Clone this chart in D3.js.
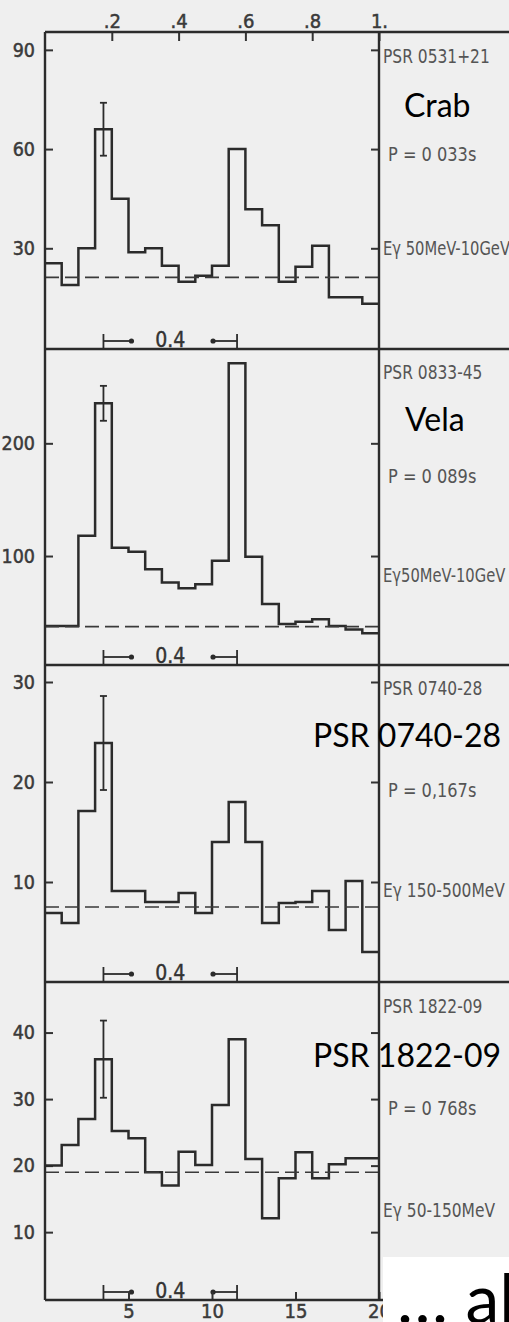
<!DOCTYPE html>
<html>
<head>
<meta charset="utf-8">
<script src="https://cdn.jsdelivr.net/npm/d3@7"></script>
<style>
  body { margin: 0; background: #efefef; }
  svg { display: block; }
  .tick text { font-family: "DejaVu Sans Condensed", "DejaVu Sans", sans-serif; fill: #3a3a3a; stroke: #3a3a3a; stroke-width: 0.5px; }
  .tick line { stroke: #333; stroke-width: 2; }
  .domain { display: none; }
</style>
</head>
<body>
<div id="plot"></div>
<script>
// pulsar light curves, 20 phase bins each
const pulsars = ["PSR 0531+21", "PSR 0833-45", "PSR 0740-28", "PSR 1822-09"];
const nicknames = ["Crab", "Vela", "PSR 0740-28", "PSR 1822-09"];
const periods = ["P = 0 033s", "P = 0 089s", "P = 0,167s", "P = 0 768s"];
const energies = ["Eγ 50MeV-10GeV", "Eγ50MeV-10GeV", "Eγ 150-500MeV", "Eγ 50-150MeV"];

const crabCounts = [25.5, 18.9, 30, 66, 45, 28.8, 30, 24.7, 19.9, 21.7, 24.7, 60, 41.8, 37, 19.9, 24.4, 30.8, 15.2, 15.2, 13.2];
const velaCounts = [37.9, 37.9, 118, 235.5, 107.4, 103.8, 88.2, 76.6, 71.3, 74.9, 95.9, 271, 99.4, 57.4, 39.6, 41.7, 43.8, 37.9, 34.9, 31.4];
const psr0740Counts = [6.9, 5.9, 17.1, 23.9, 9.1, 9.1, 8.0, 8.0, 8.9, 6.9, 14.0, 18.0, 14.0, 5.9, 7.9, 8.0, 9.1, 5.2, 10.1, 3.0];
const psr1822Counts = [20, 23.1, 27, 36, 25.2, 24.1, 19, 17, 22.1, 20.1, 29.1, 39, 21, 12.1, 18.1, 22, 18.1, 20.2, 21.1, 21.1];
const counts = [crabCounts, velaCounts, psr0740Counts, psr1822Counts];

const backgrounds = [21.2, 37.3, 7.5, 19];      // dashed level
const errorBars = [8, 15.5, 4.7, 5.8];           // on bin 4
const yTicks = [[30, 60, 90], [100, 200], [10, 20, 30], [10, 20, 30, 40]];
const phaseTicks = [0.2, 0.4, 0.6, 0.8, 1];
const phaseLabels = [".2", ".4", ".6", ".8", "1."];
const binTicks = [5, 10, 15, 20];
const separation = "0.4";

var dimension = {
    width: 509,
    height: 1322,
    left: 45,
    right: 379,
    panelTop: [32, 349, 665, 982],
    panelBottom: [349, 665, 982, 1300],
    yDomain: [[-0.45, 95.4], [3.3, 283.7], [0, 31.7], [-0.2, 47.6]]
}

const ink = "#2b2b2b";
const svg = d3.select("#plot").append("svg")
    .attr("width", dimension.width)
    .attr("height", dimension.height);

svg.append("rect").attr("width", dimension.width).attr("height", dimension.height).attr("fill", "#efefef");

const xScaler = d3.scaleLinear().domain([0, 20]).range([dimension.left, dimension.right]);
const phaseScaler = d3.scaleLinear().domain([0, 1]).range([dimension.left, dimension.right]);

for (let p = 0; p < 4; p++) {
    const top = dimension.panelTop[p], bottom = dimension.panelBottom[p];
    const yScaler = d3.scaleLinear().domain(dimension.yDomain[p]).range([bottom, top]);
    const g = svg.append("g");

    // axes (ticks pointing inward)
    g.append("g")
        .attr("transform", `translate(${dimension.left},0)`)
        .call(d3.axisLeft(yScaler).tickValues(yTicks[p]).tickSize(-8).tickPadding(10))
        .selectAll("text").style("font-size", "19.5px");
    g.append("g")
        .attr("transform", `translate(${dimension.right},0)`)
        .call(d3.axisRight(yScaler).tickValues(yTicks[p]).tickSize(-8).tickFormat(""));

    // histogram
    const pts = counts[p].map((v, i) => [i, v]);
    pts.push([20, counts[p][19]]);
    const line = d3.line().x(d => xScaler(d[0])).y(d => yScaler(d[1])).curve(d3.curveStepAfter);
    g.append("path").attr("d", line(pts)).attr("fill", "none")
        .attr("stroke", ink).attr("stroke-width", 2.5);

    // background level
    g.append("line")
        .attr("x1", dimension.left).attr("x2", dimension.right)
        .attr("y1", yScaler(backgrounds[p])).attr("y2", yScaler(backgrounds[p]))
        .attr("stroke", "#3a3a3a").attr("stroke-width", 1.7).attr("stroke-dasharray", "14,6");

    // error bar on the first peak
    const ex = xScaler(3.5), v = counts[p][3], e = errorBars[p];
    g.append("line").attr("x1", ex).attr("x2", ex)
        .attr("y1", yScaler(v - e)).attr("y2", yScaler(v + e))
        .attr("stroke", ink).attr("stroke-width", 1.8);
    [v - e, v + e].forEach(val => {
        g.append("line").attr("x1", ex - 3.5).attr("x2", ex + 3.5)
            .attr("y1", yScaler(val)).attr("y2", yScaler(val))
            .attr("stroke", ink).attr("stroke-width", 1.8);
    });

    // 0.4 separation marker
    const my = bottom - 8;
    const x1 = xScaler(3.5), x2 = xScaler(11.5);
    const marker = g.append("g").attr("stroke", ink).attr("stroke-width", 1.8);
    marker.append("line").attr("x1", x1).attr("x2", x1).attr("y1", my - 7).attr("y2", my + 7);
    marker.append("line").attr("x1", x1).attr("x2", x1 + 28).attr("y1", my).attr("y2", my);
    marker.append("line").attr("x1", x2).attr("x2", x2).attr("y1", my - 7).attr("y2", my + 7);
    marker.append("line").attr("x1", x2 - 24).attr("x2", x2).attr("y1", my).attr("y2", my);
    g.append("circle").attr("cx", x1 + 28).attr("cy", my).attr("r", 2.6).attr("fill", ink);
    g.append("circle").attr("cx", x2 - 24).attr("cy", my).attr("r", 2.6).attr("fill", ink);
    g.append("text").attr("x", (x1 + x2) / 2).attr("y", my + 6)
        .attr("text-anchor", "middle")
        .style("font-family", "'DejaVu Sans Condensed', 'DejaVu Sans', sans-serif")
        .style("font-size", "21px").attr("fill", "#333").attr("stroke", "#333").attr("stroke-width", 0.4)
        .text(separation);
}

// top phase axis
svg.append("g")
    .attr("transform", `translate(0,${dimension.panelTop[0]})`)
    .call(d3.axisTop(phaseScaler).tickValues(phaseTicks).tickSize(-9).tickPadding(4)
        .tickFormat((d, i) => phaseLabels[i]))
    .selectAll("text").style("font-size", "20px");

// bottom bin axis
svg.append("g")
    .attr("transform", `translate(0,${dimension.panelBottom[3]})`)
    .call(d3.axisBottom(xScaler).tickValues(binTicks).tickSize(-8).tickPadding(4))
    .selectAll("text").style("font-size", "20px");

// frame: verticals and panel lines running out to the page edge
svg.append("line").attr("x1", dimension.left).attr("x2", dimension.left)
    .attr("y1", dimension.panelTop[0]).attr("y2", dimension.panelBottom[3])
    .attr("stroke", ink).attr("stroke-width", 2.4);
svg.append("line").attr("x1", dimension.right).attr("x2", dimension.right)
    .attr("y1", dimension.panelTop[0]).attr("y2", dimension.panelBottom[3])
    .attr("stroke", ink).attr("stroke-width", 2.4);
dimension.panelTop.concat([dimension.panelBottom[3]]).forEach(y => {
    svg.append("line").attr("x1", dimension.left).attr("x2", dimension.width)
        .attr("y1", y).attr("y2", y).attr("stroke", ink).attr("stroke-width", 2.4);
});

// right side captions (squeezed horizontally like the condensed lettering)
const nameY = [63, 379, 695, 1013];
const periodY = [161, 483, 797, 1115];
const energyY = [255, 582, 897, 1217];
function caption(x, y, txt, squeeze) {
    svg.append("g").attr("transform", `translate(${x},${y}) scale(${squeeze},1)`)
        .append("text")
        .style("font-family", "'DejaVu Sans Condensed', 'DejaVu Sans', sans-serif")
        .style("font-size", "20px").attr("fill", "#555").text(txt);
}
for (let p = 0; p < 4; p++) {
    caption(383, nameY[p], pulsars[p], 0.86);
    caption(388, periodY[p], periods[p], 0.9);
    caption(383, energyY[p], energies[p], p < 2 ? 0.82 : 0.86);
}

// overlaid labels
const bigY = [117, 431, 747, 1067];
const bigX = [404, 405, 313, 313];
nicknames.forEach((n, p) => {
    svg.append("text").attr("x", bigX[p]).attr("y", bigY[p])
        .style("font-family", "Lato, 'Open Sans', sans-serif")
        .style("font-size", "32px").attr("fill", "#000").text(n);
});

// slide box bottom right
svg.append("rect").attr("x", 383).attr("y", 1257).attr("width", 130).attr("height", 70).attr("fill", "#fff");
svg.append("text").attr("x", 397).attr("y", 1323)
    .style("font-family", "Lato, 'Open Sans', sans-serif")
    .style("font-size", "68px").attr("fill", "#000").text("… al");
</script>
</body>
</html>
